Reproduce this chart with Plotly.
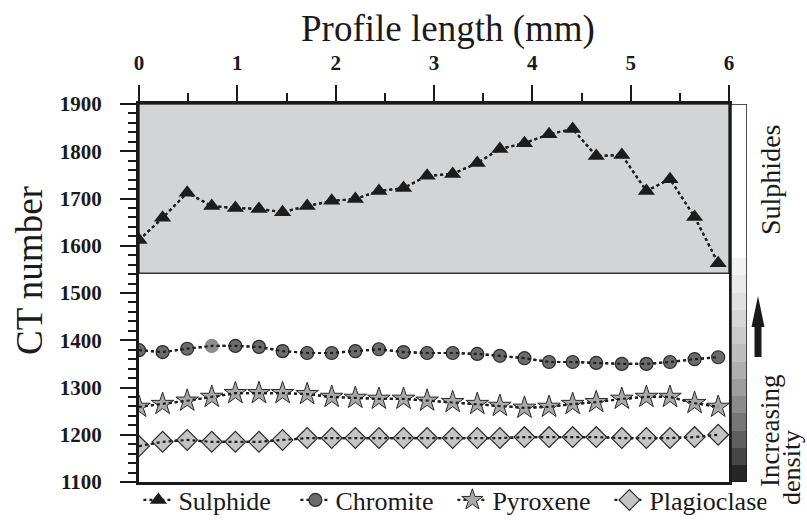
import plotly.graph_objects as go

# ---------------- data ----------------
profile_mm = [0.00, 0.24, 0.49, 0.74, 0.98, 1.22, 1.46, 1.71, 1.96, 2.20, 2.44, 2.69,
              2.93, 3.19, 3.44, 3.67, 3.92, 4.17, 4.41, 4.65, 4.91, 5.16, 5.40, 5.65, 5.89]
sulphide = [1612, 1659, 1712, 1684, 1680, 1678, 1671, 1684, 1695, 1699, 1716, 1722,
            1748, 1752, 1775, 1805, 1817, 1836, 1847, 1790, 1792, 1716, 1741, 1661, 1563]
chromite = [1379, 1375, 1382, 1388, 1388, 1386, 1377, 1373, 1373, 1377, 1381, 1375,
            1373, 1373, 1371, 1367, 1362, 1354, 1354, 1352, 1350, 1350, 1354, 1360, 1364]
pyroxene = [1259, 1265, 1272, 1280, 1288, 1288, 1288, 1286, 1280, 1278, 1276, 1276,
            1272, 1269, 1265, 1261, 1257, 1259, 1265, 1269, 1276, 1280, 1280, 1267, 1259]
plagioclase = [1176, 1185, 1189, 1185, 1185, 1185, 1189, 1193, 1193, 1193, 1193, 1193,
               1193, 1193, 1193, 1193, 1195, 1195, 1195, 1195, 1193, 1193, 1193, 1195, 1200]

x_ticks = [0, 1, 2, 3, 4, 5, 6]
y_ticks = [1100, 1200, 1300, 1400, 1500, 1600, 1700, 1800, 1900]
sulphide_zone = [1542, 1900]
density_edges = [1100, 1136, 1173, 1209, 1246, 1282, 1319, 1355, 1392, 1428, 1465,
                 1501, 1538, 1574, 1900]
density_level = [0, 1, 2, 3, 4, 5, 6, 7, 8, 9, 10, 11, 12, 13]

# ---------------- styling ----------------
FONT = "Liberation Serif"
INK = "#1a1a1a"
W, H = 807, 522
L, R, T, B = 139, 60, 104, 40
PW, PH = W - L - R, H - T - B


def px(xp):
    return (xp - L) / PW


def py(yp):
    return (H - B - yp) / PH


density_colors = ['#262626', '#474747', '#5f5f5f', '#767676', '#8b8b8b', '#9e9e9e',
                  '#afafaf', '#bebebe', '#cbcbcb', '#d6d6d6', '#e0e0e0', '#e9e9e9',
                  '#f2f2f2', '#ffffff']
n = len(density_colors) - 1
colorscale = [[i / n, c] for i, c in enumerate(density_colors)]

chromite_colors = ['#6b6b6b'] * len(chromite)
chromite_colors[3] = '#8c8c8c'
chromite_lines = ['#2a2a2a'] * len(chromite)
chromite_lines[3] = '#8c8c8c'

series = [
    ("Sulphide", sulphide, dict(symbol="triangle-up", size=15, color="#1c1c1c",
                                line=dict(width=0))),
    ("Chromite", chromite, dict(symbol="circle", size=13, color=chromite_colors,
                                line=dict(color=chromite_lines, width=1.2))),
    ("Pyroxene", pyroxene, dict(symbol="star", size=17, color="#a9a9a9",
                                line=dict(color="#2a2a2a", width=1))),
    ("Plagioclase", plagioclase, dict(symbol="diamond", size=16, color="#c4c4c4",
                                      line=dict(color="#2a2a2a", width=1.2))),
]

fig = go.Figure()

# density scale bar on the right
fig.add_trace(go.Heatmap(
    x=[0, 1], y=density_edges, z=[[v] for v in density_level],
    colorscale=colorscale, zmin=0, zmax=n, showscale=False,
    xaxis="x2", yaxis="y", hoverinfo="skip"))

for name, vals, marker in series:
    fig.add_trace(go.Scatter(
        x=profile_mm, y=vals, name=name, mode="lines+markers",
        line=dict(color="#1e1e1e", width=2.2, dash="dot"),
        marker=marker, cliponaxis=True, legendgroup=name))
    fig.add_trace(go.Scatter(
        x=profile_mm, y=vals, mode="lines", showlegend=False,
        line=dict(color="#1e1e1e", width=2.2, dash="dot"),
        hoverinfo="skip", legendgroup=name))

axis_common = dict(
    showline=True, linewidth=3, linecolor=INK, mirror=True,
    ticks="outside", ticklen=16, tickwidth=2, tickcolor=INK,
    showgrid=False, zeroline=False,
    tickfont=dict(family=FONT, size=21, color=INK, weight="bold"),
)

fig.update_layout(
    width=W, height=H,
    margin=dict(l=L, r=R, t=T, b=B, autoexpand=False),
    paper_bgcolor="white", plot_bgcolor="white",
    font=dict(family=FONT, color=INK),
    xaxis=dict(domain=[0, px(729)], range=[0, 6], side="top", anchor="y",
               tickvals=x_ticks, ticklabelstandoff=7,
               minor=dict(dtick=0.5, ticks="outside", ticklen=8, tickwidth=1.5,
                          tickcolor=INK),
               **axis_common),
    yaxis=dict(domain=[0, 1], range=[1100, 1900], anchor="x",
               tickvals=y_ticks, ticklabelstandoff=14,
               minor=dict(dtick=20, ticks="outside", ticklen=8, tickwidth=1.5,
                          tickcolor=INK),
               **axis_common),
    xaxis2=dict(domain=[px(731), px(747)], range=[0, 1], anchor="y",
                showticklabels=False, ticks="", showgrid=False, zeroline=False,
                showline=False),
    showlegend=True,
    legend=dict(orientation="h", x=-0.001, xanchor="left", y=py(500),
                yanchor="middle", font=dict(family=FONT, size=26, color=INK),
                bgcolor="rgba(0,0,0,0)", itemwidth=30, tracegroupgap=0,
                entrywidth=112, entrywidthmode="pixels"),
)

# shaded sulphide zone
fig.add_shape(type="rect", xref="x", yref="y", x0=0, x1=6,
              y0=sulphide_zone[0], y1=sulphide_zone[1],
              fillcolor="#d3d4d6", line=dict(color="#333333", width=1.5),
              layer="below")
# border of density bar
fig.add_shape(type="rect", xref="x2", yref="y", x0=0, x1=1, y0=1100, y1=1900,
              line=dict(color=INK, width=1.5))

# arrow
tip, head, base = 296, 327, 357
cx = 758
path = (f"M {px(cx)} {py(tip)} L {px(cx + 6.5)} {py(head)} L {px(cx + 3.5)} {py(head)} "
        f"L {px(cx + 3.5)} {py(base)} L {px(cx - 3.5)} {py(base)} L {px(cx - 3.5)} {py(head)} "
        f"L {px(cx - 6.5)} {py(head)} Z")
fig.add_shape(type="path", xref="paper", yref="paper", path=path,
              fillcolor=INK, line=dict(width=0))

annots = [
    dict(text="Profile length (mm)", x=px(448), y=py(29), size=37, angle=0),
    dict(text="CT number", x=px(29), y=py(271), size=37, angle=-90),
    dict(text="Sulphides", x=px(770), y=py(180), size=28, angle=-90),
    dict(text="Increasing", x=px(770), y=py(431), size=27, angle=-90),
    dict(text="density", x=px(791), y=py(468), size=26, angle=-90),
]
for a in annots:
    fig.add_annotation(text=a["text"], x=a["x"], y=a["y"], xref="paper", yref="paper",
                       xanchor="center", yanchor="middle", showarrow=False,
                       textangle=a["angle"],
                       font=dict(family=FONT, size=a["size"], color=INK))

fig.write_html("out.html")
